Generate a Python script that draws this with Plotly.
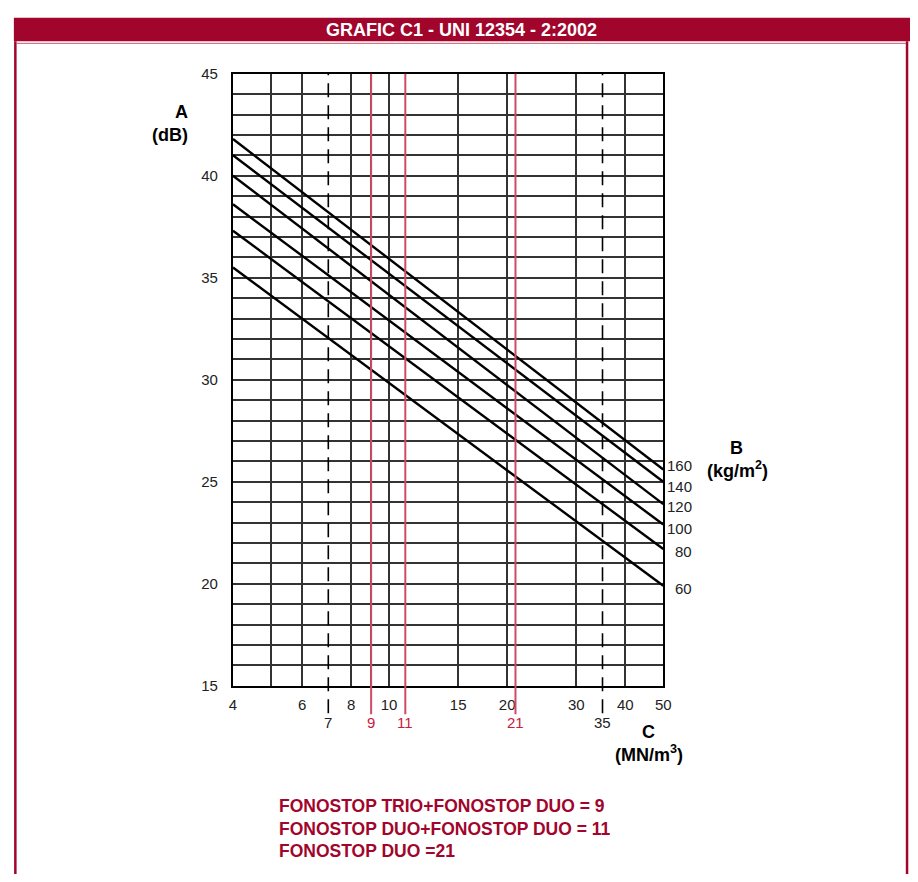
import numpy as np
import plotly.graph_objects as go

W, H = 918, 882

# ---------------- data ----------------
mass_labels = ["160", "140", "120", "100", "80", "60"]          # B (kg/m2)
c_ends = [4, 50]                                                 # C (MN/m3) at line ends
a_at_c4 = [41.8, 41.0, 40.0, 38.6, 37.3, 35.5]                   # A (dB) at C = 4
a_at_c50 = [25.6, 25.0, 23.9, 22.9, 21.7, 19.9]                  # A (dB) at C = 50

x_major_vals = [4, 6, 8, 10, 15, 20, 30, 40, 50]
x_minor_vals = [5, 9]
dashed_c = [7, 35]
product_c = [9, 11, 21]
y_major_vals = [15, 20, 25, 30, 35, 40, 45]

title_text = "GRAFIC C1 - UNI 12354 - 2:2002"
product_notes = ["FONOSTOP TRIO+FONOSTOP DUO = 9",
                 "FONOSTOP DUO+FONOSTOP DUO = 11",
                 "FONOSTOP DUO =21"]

# ---------------- style ----------------
DARK_RED = "#a1052b"
LINE_RED = "#d04a62"
LABEL_RED = "#c8203c"
GRID = "#333333"
FONT = "Liberation Sans, Arial, sans-serif"
label_yshift = [4, -5, -2, -4, -2, -3]


def fx(p):
    return p / W


def fy(p):
    return 1 - p / H


fig = go.Figure()

for lab, a0, a1 in zip(mass_labels, a_at_c4, a_at_c50):
    fig.add_trace(go.Scatter(x=c_ends, y=[a0, a1], mode="lines",
                             line=dict(color="black", width=2.4),
                             name=lab, showlegend=False, hoverinfo="skip"))

shapes = []
# frame
shapes.append(dict(type="rect", xref="paper", yref="paper", x0=fx(10), x1=1.0,
                   y0=fy(33), y1=fy(9), fillcolor=DARK_RED, line=dict(width=0), layer="below"))
shapes.append(dict(type="line", xref="paper", yref="paper", x0=fx(11.5), x1=fx(11.5),
                   y0=fy(33), y1=0, line=dict(color=DARK_RED, width=2.5)))
shapes.append(dict(type="line", xref="paper", yref="paper", x0=fx(915), x1=fx(915),
                   y0=fy(33), y1=0, line=dict(color=DARK_RED, width=2.5)))
shapes.append(dict(type="line", xref="paper", yref="paper", x0=fx(12), x1=fx(914),
                   y0=fy(35), y1=fy(35), line=dict(color="#c8576f", width=1)))
# dashed reference lines
for c in dashed_c:
    shapes.append(dict(type="line", xref="x", yref="paper", x0=c, x1=c,
                       y0=fy(718), y1=fy(66), layer="above",
                       line=dict(color="black", width=1.6, dash="14px,8px")))
# product lines (red)
for c in product_c:
    shapes.append(dict(type="line", xref="x", yref="paper", x0=c, x1=c,
                       y0=fy(719), y1=fy(66), layer="above",
                       line=dict(color=LINE_RED, width=2)))

ann = []
ann.append(dict(text="<b>" + title_text + "</b>", xref="paper", yref="paper",
                x=fx(464), y=fy(21), showarrow=False, xanchor="center", yanchor="middle",
                font=dict(family=FONT, size=18, color="white")))
# line labels
for lab, a1, ys in zip(mass_labels, a_at_c50, label_yshift):
    ann.append(dict(text=lab, xref="x", yref="y", x=np.log10(c_ends[1]), y=a1,
                    xanchor="right", yanchor="middle", xshift=31, yshift=ys, showarrow=False,
                    font=dict(family=FONT, size=15, color="#222")))
# second row of x labels
for c in dashed_c:
    ann.append(dict(text=str(c), xref="x", yref="paper", x=np.log10(c), y=fy(728),
                    xanchor="center", yanchor="middle", showarrow=False,
                    font=dict(family=FONT, size=15, color="#222")))
for c in product_c:
    ann.append(dict(text=str(c), xref="x", yref="paper", x=np.log10(c), y=fy(728),
                    xanchor="center", yanchor="middle", showarrow=False,
                    font=dict(family=FONT, size=15, color=LABEL_RED)))
# axis names
axis_txt = [("<b>A</b>", 188, 105, "right"), ("<b>(dB)</b>", 188, 128, "right"),
            ("<b>B</b>", 742, 448, "center"), ("<b>(kg/m<sup>2</sup>)</b>", 743, 470, "center"),
            ("<b>C</b>", 653, 737, "center"), ("<b>(MN/m<sup>3</sup>)</b>", 654, 759, "center")]
for t, x, y, xa in axis_txt:
    ann.append(dict(text=t, xref="paper", yref="paper", x=fx(x), y=fy(y),
                    xanchor=xa, yanchor="middle", showarrow=False,
                    font=dict(family=FONT, size=18, color="black")))
# notes
for i, note in enumerate(product_notes):
    ann.append(dict(text="<b>" + note + "</b>", xref="paper", yref="paper",
                    x=fx(277), y=fy(813 + 23 * i), xanchor="left", yanchor="middle",
                    showarrow=False, font=dict(family=FONT, size=17.5, color=DARK_RED)))

grid_common = dict(showgrid=True, gridcolor=GRID, gridwidth=1.5,
                   showline=True, mirror=True, linecolor="black", linewidth=2,
                   ticks="", zeroline=False,
                   tickfont=dict(family=FONT, size=15, color="#222"))

fig.update_layout(
    width=W, height=H, margin=dict(l=0, r=0, t=0, b=0),
    paper_bgcolor="white", plot_bgcolor="white",
    showlegend=False, shapes=shapes, annotations=ann,
    xaxis=dict(type="log", range=[np.log10(4), np.log10(50)],
               domain=[fx(232), fx(668)],
               tickmode="array", tickvals=x_major_vals,
               ticktext=[str(v) for v in x_major_vals],
               ticklabelstandoff=4,
               minor=dict(tickmode="array", tickvals=x_minor_vals, showgrid=True,
                          gridcolor=GRID, gridwidth=1.5, ticks=""),
               **grid_common),
    yaxis=dict(range=[15, 45], domain=[fy(690), fy(66)],
               tickmode="array", tickvals=y_major_vals,
               ticktext=[str(v) for v in y_major_vals],
               ticklabelstandoff=10,
               minor=dict(dtick=1, tick0=15, showgrid=True,
                          gridcolor=GRID, gridwidth=1.5, ticks=""),
               **grid_common),
)

page_js = ("var s=document.createElement('style');"
           "s.textContent='html,body{margin:0 !important;padding:0 !important;overflow:hidden !important;}"
           " #{plot_id}{position:fixed !important;left:0;top:0;}';"
           "document.head.appendChild(s);")

fig.write_html("out.html", config={"displayModeBar": False},
               post_script=page_js)
